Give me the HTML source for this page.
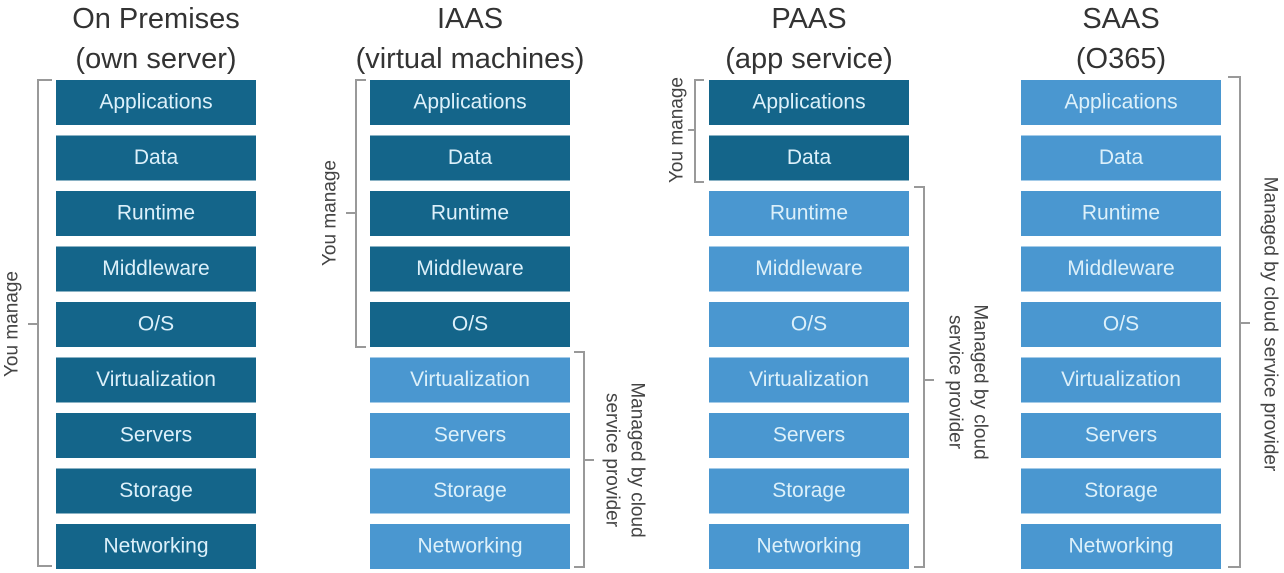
<!DOCTYPE html>
<html><head><meta charset="utf-8"><style>
html,body{margin:0;padding:0;background:#fff;}
svg{display:block;}
text{font-family:"Liberation Sans",sans-serif;}
.t{font-size:29px;fill:#333;text-anchor:middle;}
.b{font-size:21px;fill:#dcf0fa;text-anchor:middle;dominant-baseline:central;}
.l{font-size:19px;fill:#444;text-anchor:middle;dominant-baseline:central;}
.br{fill:none;stroke:#999;stroke-width:2;}
.d{fill:#14658a;}
.s{fill:#4a97d0;}
</style></head><body>
<svg width="1284" height="573" viewBox="0 0 1284 573">
<text class="t" x="156" y="28">On Premises</text>
<text class="t" x="156" y="68">(own server)</text>
<text class="t" x="470" y="28">IAAS</text>
<text class="t" x="470" y="68">(virtual machines)</text>
<text class="t" x="809" y="28">PAAS</text>
<text class="t" x="809" y="68">(app service)</text>
<text class="t" x="1121" y="28">SAAS</text>
<text class="t" x="1121" y="68">(O365)</text>

<!-- On Premises -->
<g transform="translate(56,0)">
<rect class="d" x="0" y="80" width="200" height="45"/><text class="b" x="100" y="102">Applications</text>
<rect class="d" x="0" y="135.5" width="200" height="45"/><text class="b" x="100" y="157.5">Data</text>
<rect class="d" x="0" y="191" width="200" height="45"/><text class="b" x="100" y="213">Runtime</text>
<rect class="d" x="0" y="246.5" width="200" height="45"/><text class="b" x="100" y="268.5">Middleware</text>
<rect class="d" x="0" y="302" width="200" height="45"/><text class="b" x="100" y="324">O/S</text>
<rect class="d" x="0" y="357.5" width="200" height="45"/><text class="b" x="100" y="379.5">Virtualization</text>
<rect class="d" x="0" y="413" width="200" height="45"/><text class="b" x="100" y="435">Servers</text>
<rect class="d" x="0" y="468.5" width="200" height="45"/><text class="b" x="100" y="490.5">Storage</text>
<rect class="d" x="0" y="524" width="200" height="45"/><text class="b" x="100" y="546">Networking</text>
</g>
<!-- IAAS -->
<g transform="translate(370,0)">
<rect class="d" x="0" y="80" width="200" height="45"/><text class="b" x="100" y="102">Applications</text>
<rect class="d" x="0" y="135.5" width="200" height="45"/><text class="b" x="100" y="157.5">Data</text>
<rect class="d" x="0" y="191" width="200" height="45"/><text class="b" x="100" y="213">Runtime</text>
<rect class="d" x="0" y="246.5" width="200" height="45"/><text class="b" x="100" y="268.5">Middleware</text>
<rect class="d" x="0" y="302" width="200" height="45"/><text class="b" x="100" y="324">O/S</text>
<rect class="s" x="0" y="357.5" width="200" height="45"/><text class="b" x="100" y="379.5">Virtualization</text>
<rect class="s" x="0" y="413" width="200" height="45"/><text class="b" x="100" y="435">Servers</text>
<rect class="s" x="0" y="468.5" width="200" height="45"/><text class="b" x="100" y="490.5">Storage</text>
<rect class="s" x="0" y="524" width="200" height="45"/><text class="b" x="100" y="546">Networking</text>
</g>
<!-- PAAS -->
<g transform="translate(709,0)">
<rect class="d" x="0" y="80" width="200" height="45"/><text class="b" x="100" y="102">Applications</text>
<rect class="d" x="0" y="135.5" width="200" height="45"/><text class="b" x="100" y="157.5">Data</text>
<rect class="s" x="0" y="191" width="200" height="45"/><text class="b" x="100" y="213">Runtime</text>
<rect class="s" x="0" y="246.5" width="200" height="45"/><text class="b" x="100" y="268.5">Middleware</text>
<rect class="s" x="0" y="302" width="200" height="45"/><text class="b" x="100" y="324">O/S</text>
<rect class="s" x="0" y="357.5" width="200" height="45"/><text class="b" x="100" y="379.5">Virtualization</text>
<rect class="s" x="0" y="413" width="200" height="45"/><text class="b" x="100" y="435">Servers</text>
<rect class="s" x="0" y="468.5" width="200" height="45"/><text class="b" x="100" y="490.5">Storage</text>
<rect class="s" x="0" y="524" width="200" height="45"/><text class="b" x="100" y="546">Networking</text>
</g>
<!-- SAAS -->
<g transform="translate(1021,0)">
<rect class="s" x="0" y="80" width="200" height="45"/><text class="b" x="100" y="102">Applications</text>
<rect class="s" x="0" y="135.5" width="200" height="45"/><text class="b" x="100" y="157.5">Data</text>
<rect class="s" x="0" y="191" width="200" height="45"/><text class="b" x="100" y="213">Runtime</text>
<rect class="s" x="0" y="246.5" width="200" height="45"/><text class="b" x="100" y="268.5">Middleware</text>
<rect class="s" x="0" y="302" width="200" height="45"/><text class="b" x="100" y="324">O/S</text>
<rect class="s" x="0" y="357.5" width="200" height="45"/><text class="b" x="100" y="379.5">Virtualization</text>
<rect class="s" x="0" y="413" width="200" height="45"/><text class="b" x="100" y="435">Servers</text>
<rect class="s" x="0" y="468.5" width="200" height="45"/><text class="b" x="100" y="490.5">Storage</text>
<rect class="s" x="0" y="524" width="200" height="45"/><text class="b" x="100" y="546">Networking</text>
</g>

<path class="br" d="M52,80 H38 V566 H52 M38,324 H28"/>
<path class="br" d="M366,80 H356 V347 H366 M356,213 H346"/>
<path class="br" d="M574,352 H584 V567 H574 M584,460 H594"/>
<path class="br" d="M704,80 H695 V182 H704 M695,130 H688"/>
<path class="br" d="M914,187 H924 V567 H914 M924,380 H934"/>
<path class="br" d="M1228,77 H1240 V567 H1228 M1240,323 H1250"/>
<text class="l" transform="translate(12,324) rotate(-90)">You manage</text>
<text class="l" transform="translate(330,213) rotate(-90)">You manage</text>
<text class="l" transform="translate(677,130) rotate(-90)">You manage</text>
<text class="l" transform="translate(637,460) rotate(90)">Managed by cloud</text>
<text class="l" transform="translate(612,460) rotate(90)">service provider</text>
<text class="l" transform="translate(980,382) rotate(90)">Managed by cloud</text>
<text class="l" transform="translate(955,382) rotate(90)">service provider</text>
<text class="l" transform="translate(1270,324) rotate(90)">Managed by cloud service provider</text>
</svg>
</body></html>
